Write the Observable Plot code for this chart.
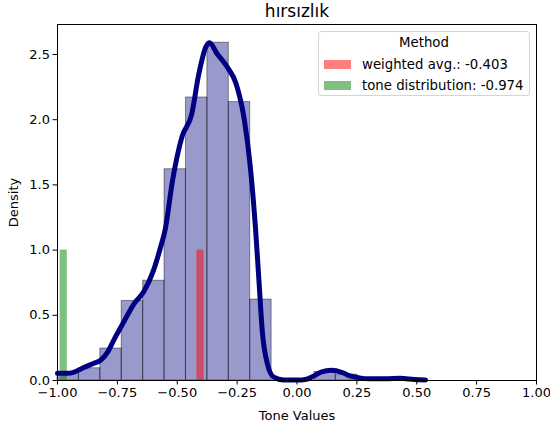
<!DOCTYPE html>
<html>
<head>
<meta charset="utf-8">
<script src="https://cdn.jsdelivr.net/npm/d3@7"></script>
<script src="https://cdn.jsdelivr.net/npm/@observablehq/plot@0.6"></script>
<style>
  body { margin: 0; background: #fff; font-family: "DejaVu Sans", sans-serif; }
  #chart { position: relative; width: 550px; height: 427px; }
  .legend {
    position: absolute; left: 318px; top: 31px; width: 212px; height: 65px;
    box-sizing: border-box; border: 1px solid #d4d4d4; border-radius: 3px;
    background: rgba(255, 255, 255, 0.8); font-size: 13.3px; color: #000;
  }
  .legend .ttl { position: absolute; left: 0; right: 0; top: 3px; text-align: center; }
  .legend .row { position: absolute; left: 5px; height: 16px; display: flex; align-items: center; white-space: nowrap; }
  .legend .sw { width: 27px; height: 9px; margin-right: 11px; }
</style>
</head>
<body>
<div id="chart"></div>
<script>
// Histogram of tone values (density-normalised) with its kernel density curve
const title = "hırsızlık";
const binStart = [-1.0, -0.9106, -0.8212, -0.7318, -0.6424, -0.5530, -0.4636, -0.3742, -0.2848, -0.1954, -0.1060, -0.0166, 0.0728, 0.1622];
const binEnd   = [-0.9106, -0.8212, -0.7318, -0.6424, -0.5530, -0.4636, -0.3742, -0.2848, -0.1954, -0.1060, -0.0166, 0.0728, 0.1622, 0.2516];
const binDensity = [0.06, 0.094, 0.245, 0.61, 0.765, 1.62, 2.17, 2.59, 2.135, 0.62, 0, 0, 0.065, 0.045];

// Kernel density estimate
const kdeX = [-1.0, -0.96, -0.93, -0.89, -0.85, -0.82, -0.79, -0.765, -0.72, -0.68, -0.64, -0.60, -0.57, -0.55,
              -0.52, -0.48, -0.44, -0.41, -0.38, -0.365, -0.335, -0.29, -0.255, -0.22, -0.195, -0.173, -0.159,
              -0.145, -0.124, -0.097, -0.055, 0.0, 0.04, 0.07, 0.10, 0.145, 0.19, 0.225, 0.26, 0.30, 0.37, 0.43, 0.49, 0.537];
const kdeY = [0.055, 0.055, 0.065, 0.10, 0.13, 0.155, 0.22, 0.31, 0.46, 0.59, 0.68, 0.84, 1.02, 1.16,
              1.53, 1.87, 2.04, 2.35, 2.56, 2.59, 2.51, 2.40, 2.28, 2.00, 1.64, 1.16, 0.77,
              0.38, 0.13, 0.025, 0.004, 0.003, 0.01, 0.035, 0.065, 0.078, 0.06, 0.033, 0.02, 0.013, 0.013, 0.017, 0.008, 0.004];

// Summary values per method
const methods = ["weighted avg.", "tone distribution"];
const methodValues = [-0.403, -0.974];
const methodHeights = [1, 1];
const methodColors = ["#ff0000", "#008000"];

const xTicks = [-1, -0.75, -0.5, -0.25, 0, 0.25, 0.5, 0.75, 1];
const yTicks = [0, 0.5, 1, 1.5, 2, 2.5];

const barWidth = 0.03;
const minus = s => s.replace("-", "\u2212");

const bins = binStart.map((x1, i) => ({x1, x2: binEnd[i], y: binDensity[i]})).filter(d => d.y > 0);
const kde = kdeX.map((x, i) => ({x, y: kdeY[i]}));
const summary = methods.map((m, i) => ({method: m, value: methodValues[i], height: methodHeights[i], color: methodColors[i]}));

const chart = Plot.plot({
  width: 550,
  height: 427,
  marginLeft: 57,
  marginRight: 14,
  marginTop: 24,
  marginBottom: 47,
  style: {fontFamily: "DejaVu Sans", fontSize: "13px", color: "#000", background: "#fff"},
  x: {domain: [-1, 1]},
  y: {domain: [0, 2.73]},
  color: {type: "identity"},
  marks: [
    Plot.rectY(bins, {x1: "x1", x2: "x2", y: "y", fill: "navy", fillOpacity: 0.4,
                      stroke: "#000", strokeOpacity: 0.42, strokeWidth: 1}),
    Plot.rectY(summary, {x1: d => d.value - barWidth / 2, x2: d => d.value + barWidth / 2, y: "height",
                         fill: "color", fillOpacity: 0.5}),
    Plot.line(kde, {x: "x", y: "y", stroke: "navy", strokeWidth: 5, curve: "monotone-x"}),
    Plot.frame({stroke: "#000", strokeWidth: 1}),
    Plot.axisX({ticks: xTicks, tickFormat: d => minus(d.toFixed(2)), tickSize: 4.5, tickPadding: 3, fontSize: 13,
                label: "Tone Values", labelAnchor: "center", labelArrow: "none", labelOffset: 39}),
    Plot.axisY({ticks: yTicks, tickFormat: d => d.toFixed(1), tickSize: 4.5, tickPadding: 3, fontSize: 13,
                label: "Density", labelAnchor: "center", labelArrow: "none", labelOffset: 49}),
    Plot.text([title], {frameAnchor: "top", lineAnchor: "middle", dy: -12.7, fontSize: 17})
  ]
});

const root = document.getElementById("chart");
root.appendChild(chart);

// Legend box
const legend = document.createElement("div");
legend.className = "legend";
legend.innerHTML = `<div class="ttl">Method</div>`;
summary.forEach((d, i) => {
  const row = document.createElement("div");
  row.className = "row";
  row.style.top = (24 + i * 21) + "px";
  row.innerHTML = `<span class="sw" style="background:${d.color};opacity:0.5"></span><span>${d.method}: ${d.value.toFixed(3)}</span>`;
  legend.appendChild(row);
});
root.appendChild(legend);
</script>
</body>
</html>
